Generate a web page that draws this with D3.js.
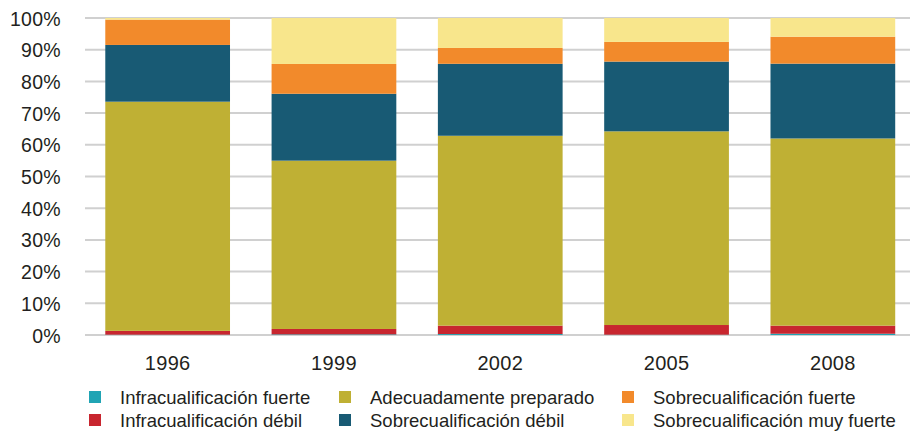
<!DOCTYPE html>
<html>
<head>
<meta charset="utf-8">
<script src="https://cdn.jsdelivr.net/npm/d3@7"></script>
<style>
  body { margin: 0; background: #fff; }
  text { font-family: "Liberation Sans", Arial, sans-serif; fill: #231f20; }
</style>
</head>
<body>
<div id="chart"></div>
<script>
// categorías (años)
const years = ["1996", "1999", "2002", "2005", "2008"];

// series, en %
const infraFuerte  = [0.1, 0.2, 0.3, 0.1, 0.4];
const infraDebil   = [1.2, 1.7, 2.65, 3.05, 2.55];
const adecuado     = [72.3, 53.1, 59.9, 61.1, 59.05];
const sobreDebil   = [17.9, 21.1, 22.7, 22.0, 23.6];
const sobreFuerte  = [8.0, 9.4, 5.0, 6.2, 8.5];
const sobreMuyFuerte = [0.5, 14.5, 9.45, 7.55, 5.9];

const seriesNames = [
  "Infracualificación fuerte",
  "Infracualificación débil",
  "Adecuadamente preparado",
  "Sobrecualificación débil",
  "Sobrecualificación fuerte",
  "Sobrecualificación muy fuerte"
];
const seriesValues = [infraFuerte, infraDebil, adecuado, sobreDebil, sobreFuerte, sobreMuyFuerte];
const colors = ["#20a4b4", "#c8262f", "#bfb034", "#185a74", "#f28a2b", "#f8e68c"];

const yTicks = [0, 10, 20, 30, 40, 50, 60, 70, 80, 90, 100];

const width = 910;
const height = 432;

// tabla para d3.stack
const rows = years.map(function (y, i) {
  const r = { year: y };
  seriesNames.forEach(function (n, j) { r[n] = seriesValues[j][i]; });
  return r;
});

const svg = d3.select("#chart")
  .append("svg")
  .attr("width", width)
  .attr("height", height);

const x = d3.scaleBand()
  .domain(years)
  .range([84.5, 916])
  .paddingInner(0.25)
  .paddingOuter(0.125);

const y = d3.scaleLinear()
  .domain([0, 100])
  .range([335, 18]);

// líneas de la cuadrícula
svg.append("g")
  .selectAll("line")
  .data(yTicks)
  .enter()
  .append("line")
  .attr("x1", 85)
  .attr("x2", width)
  .attr("y1", function (d) { return y(d); })
  .attr("y2", function (d) { return y(d); })
  .attr("stroke", "#d0d0d0")
  .attr("stroke-width", 2);

// eje y
const yAxis = svg.append("g")
  .attr("transform", "translate(61,0)")
  .call(d3.axisLeft(y).tickValues(yTicks).tickSize(0).tickPadding(0)
    .tickFormat(function (d) { return d + "%"; }));
yAxis.select(".domain").remove();
yAxis.selectAll("text")
  .attr("font-size", "19.5px")
  .attr("dy", "0.36em")
  .style("letter-spacing", "0.3px")
  .style("font-family", "'Liberation Sans', Arial, sans-serif")
  .attr("fill", "#231f20");

// barras apiladas
const stack = d3.stack().keys(seriesNames);
const layers = stack(rows);

svg.append("g")
  .selectAll("g")
  .data(layers)
  .enter()
  .append("g")
  .attr("fill", function (d, i) { return colors[i]; })
  .selectAll("rect")
  .data(function (d) { return d; })
  .enter()
  .append("rect")
  .attr("x", function (d) { return x(d.data.year); })
  .attr("y", function (d) { return y(d[1]); })
  .attr("width", x.bandwidth())
  .attr("height", function (d) { return y(d[0]) - y(d[1]); });

// eje x
const xAxis = svg.append("g")
  .attr("transform", "translate(0,335)")
  .call(d3.axisBottom(x).tickSize(0).tickPadding(0));
xAxis.select(".domain").remove();
xAxis.selectAll("text")
  .attr("font-size", "20px")
  .attr("y", 35)
  .attr("dy", 0)
  .style("letter-spacing", "0.3px")
  .style("font-family", "'Liberation Sans', Arial, sans-serif")
  .attr("fill", "#231f20");

// leyenda (3 columnas x 2 filas)
const legendCols = [89, 339, 622];
const legendRows = [391, 414];
const legend = svg.append("g")
  .selectAll("g")
  .data(seriesNames)
  .enter()
  .append("g")
  .attr("transform", function (d, i) {
    return "translate(" + legendCols[Math.floor(i / 2)] + "," + legendRows[i % 2] + ")";
  });

legend.append("rect")
  .attr("width", 12)
  .attr("height", 12)
  .attr("fill", function (d, i) { return colors[i]; });

legend.append("text")
  .attr("x", 31)
  .attr("y", 13)
  .attr("font-size", "18.5px")
  .text(function (d) { return d; });
</script>
</body>
</html>
